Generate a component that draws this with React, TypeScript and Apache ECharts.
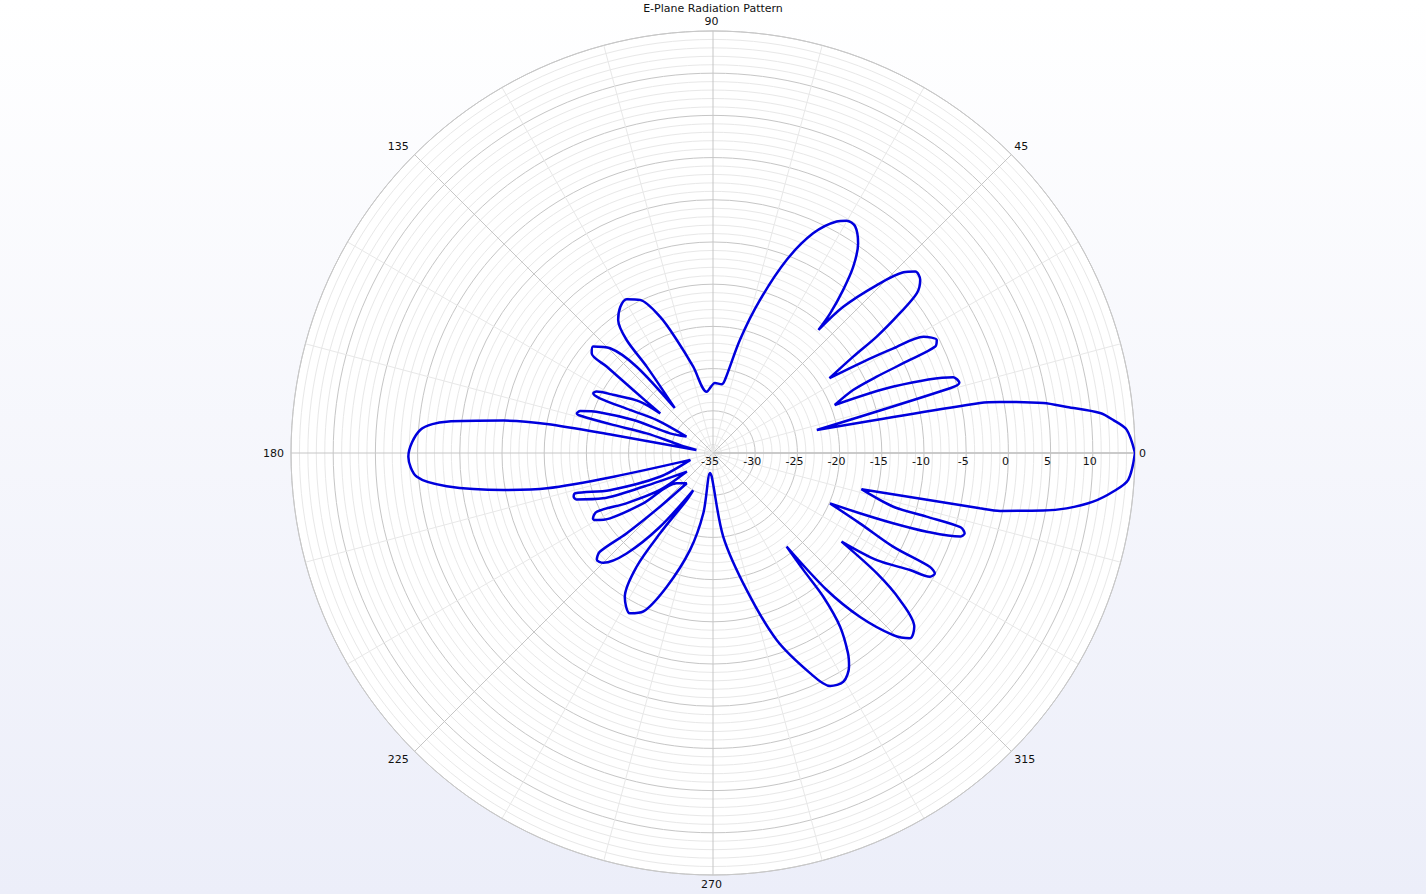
import React, { useEffect, useRef } from "react";
import * as echarts from "echarts";

// Pattern samples: [angle in degrees, gain in dB]
const mainLobeUpper = [
  [0, 15.0], [3.2, 14.1], [4.7, 12.6], [5.9, 11.1], [7.4, 7.3], [8.6, 4.6],
  [10.1, -0.5], [10.6, -2.8], [12.5, -22.4],
];
const lobe16 = [[15.3, -5.8], [15.9, -4.65], [17.5, -5.15], [20.2, -12.2], [21.5, -19.5]];
const lobe27 = [
  [24.2, -16.8], [25.0, -13.6], [25.3, -9.2], [25.6, -5.8], [26.8, -5.3],
  [28.9, -6.5], [30.1, -10.3], [31.4, -14.6], [32.7, -18.6],
];
const lobe40 = [
  [34.5, -14.8], [35.4, -11.2], [36.8, -7.35], [38.1, -4.3], [39.9, -3.0],
  [41.9, -2.8], [43.5, -3.9], [45.7, -7.2], [48.3, -11.8], [49.4, -15.8],
];
const lobe60 = [
  [50.0, -13.4], [51.4, -10.3], [53.0, -7.4], [55.3, -4.8], [57.9, -3.3],
  [60.1, -3.25], [61.9, -3.9], [65.5, -6.4], [69.1, -10.5], [72.9, -16.0],
  [76.6, -21.2], [80.7, -26.2], [82.8, -26.8], [88.4, -26.7], [95.9, -27.7],
];
const lobe119 = [
  [102.9, -24.5], [107.8, -20.9], [111.2, -17.7], [115.5, -14.9], [119.3, -14.1],
  [122.4, -14.5], [125.5, -15.65], [127.4, -18.15], [127.5, -22.1], [130.4, -28.0],
];
const lobe139 = [
  [131.5, -21.35], [134.5, -17.6], [138.4, -16.0], [140.6, -16.4], [140.9, -18.8],
  [141.7, -23.0], [143.2, -27.2],
];
const lobe153 = [
  [144.9, -24.4], [149.8, -21.3], [152.2, -19.4], [153.5, -19.15], [154.2, -20.1],
  [152.6, -23.9], [149.6, -27.3], [148.2, -31.3],
];
const lobe164 = [
  [155.4, -29.4], [157.5, -24.8], [160.2, -20.8], [162.5, -18.5], [163.8, -18.2],
  [164.3, -18.8], [164.3, -22.7], [163.5, -26.8], [166.4, -31.0], [169.6, -33.0],
];
const backLobe = [
  [169.8, -23.0], [170.1, -15.0], [171.2, -9.9], [173.3, -3.2], [175.5, -0.2],
  [180.7, 1.1], [184.6, 0.2], [187.1, -3.2], [190.0, -9.8], [192.0, -14.9],
  [193.4, -22.9], [196.9, -32.2],
];
const lobe197 = [
  [204.1, -28.1], [199.8, -22.0], [196.3, -18.0], [197.4, -17.7], [198.8, -17.9],
  [202.4, -20.9], [205.8, -25.8], [215.4, -31.2],
];
const lobe208 = [
  [214.9, -27.35], [210.2, -23.2], [206.8, -19.6], [208.6, -18.8], [209.6, -18.9],
  [212.4, -20.55], [215.8, -24.8], [219.9, -29.4],
];
const lobe222 = [
  [229.0, -30.25], [225.4, -26.1], [222.9, -21.0], [221.1, -17.2], [222.6, -16.3],
  [225.0, -16.6], [229.3, -19.3], [234.3, -24.2], [242.0, -30.0],
];
const lobe242 = [
  [240.8, -28.6], [236.6, -23.6], [236.1, -18.8], [238.5, -15.0], [242.6, -13.6],
  [246.3, -14.5], [250.9, -18.2], [256.7, -23.2], [260.9, -27.8], [261.6, -32.6],
];
const lobe298 = [
  [266.9, -32.2], [277.0, -25.0], [283.8, -18.3], [288.8, -11.6], [293.8, -6.5],
  [296.7, -4.1], [299.7, -3.8], [302.5, -5.0], [304.0, -6.4], [306.2, -9.5],
  [307.5, -13.5], [307.7, -17.5], [308.2, -20.9],
];
const lobe317 = [
  [309.7, -13.9], [311.9, -8.9], [314.7, -4.65], [316.8, -2.95], [319.2, -3.5],
  [321.8, -6.8], [323.7, -10.9], [325.4, -16.5],
];
const lobe331 = [
  [326.8, -11.8], [329.3, -7.85], [330.3, -5.4], [331.5, -5.1], [332.3, -6.0],
  [332.5, -10.9], [334.4, -15.7], [336.7, -19.9],
];
const lobe342 = [
  [337.7, -16.2], [338.7, -12.1], [339.8, -8.0], [341.3, -4.1], [342.3, -3.7],
  [343.3, -4.4], [343.4, -8.6], [343.4, -12.7], [346.3, -16.9],
];
const mainLobeLower = [
  [348.3, -2.7], [348.6, -0.3], [350.1, 4.7], [351.1, 7.4], [352.7, 10.4],
  [354.5, 12.65], [356.3, 14.3], [360, 15.0],
];

const angleLabels = [0, 45, 90, 135, 180, 225, 270, 315];
const radiusMin = -35;
const radiusMax = 15;
const radiusStep = 5;

export default function App() {
  const ref = useRef<HTMLDivElement>(null);
  useEffect(() => {
    const chart = echarts.init(ref.current as HTMLDivElement, null, { renderer: "svg" });
    const all = [
      ...mainLobeUpper, ...lobe16, ...lobe27, ...lobe40, ...lobe60, ...lobe119,
      ...lobe139, ...lobe153, ...lobe164, ...backLobe, ...lobe197, ...lobe208,
      ...lobe222, ...lobe242, ...lobe298, ...lobe317, ...lobe331, ...lobe342,
      ...mainLobeLower,
    ].map(([a, g]) => [g, a]);
    const font = "DejaVu Sans";
    chart.setOption({
      animation: false,
      title: {
        text: "E-Plane Radiation Pattern",
        left: "center",
        top: -2,
        textStyle: { fontSize: 11, fontWeight: "normal", color: "#111", fontFamily: font },
      },
      graphic: [
        {
          type: "circle",
          z: -10,
          shape: { cx: 713, cy: 453, r: 422 },
          style: { fill: "#ffffff" },
          silent: true,
        },
      ],
      polar: { center: [713, 453], radius: 422 },
      angleAxis: {
        type: "value",
        min: 0,
        max: 360,
        interval: 15,
        startAngle: 0,
        clockwise: false,
        axisLine: { show: true, lineStyle: { color: "#c8c8c8", width: 1 } },
        axisTick: { show: false },
        axisLabel: {
          margin: 4,
          color: "#111",
          fontSize: 11,
          fontFamily: font,
          padding: [0, 3, 0, 0],
          formatter: (v: number) => (angleLabels.includes(v) ? String(v) : ""),
        },
        splitLine: {
          show: true,
          lineStyle: { color: ["#c6c6c6", "#e8e8e8", "#e8e8e8"], width: 1 },
        },
      },
      radiusAxis: {
        type: "value",
        min: radiusMin,
        max: radiusMax,
        interval: radiusStep,
        axisLine: { show: true, lineStyle: { color: "#c2c2c2", width: 1.5 } },
        axisTick: { show: false },
        axisLabel: {
          color: "#111",
          fontSize: 11,
          fontFamily: font,
          showMaxLabel: false,
          margin: -3,
          verticalAlign: "top",
          padding: [0, 6, 0, 0],
        },
        splitLine: { show: true, lineStyle: { color: "#c6c6c6", width: 1 } },
        minorTick: { show: false, splitNumber: 5 },
        minorSplitLine: { show: true, lineStyle: { color: "#e8e8e8", width: 1 } },
      },
      series: [
        {
          type: "line",
          coordinateSystem: "polar",
          data: all,
          showSymbol: false,
          smooth: 0.3,
          lineStyle: { color: "#0000dd", width: 2.5 },
          z: 5,
        },
      ],
    });
    return () => chart.dispose();
  }, []);
  return (
    <div
      ref={ref}
      style={{
        position: "fixed",
        left: 0,
        top: 0,
        width: 1426,
        height: 894,
        background: "linear-gradient(to bottom, #ffffff 0%, #eceef9 100%)",
      }}
    />
  );
}
